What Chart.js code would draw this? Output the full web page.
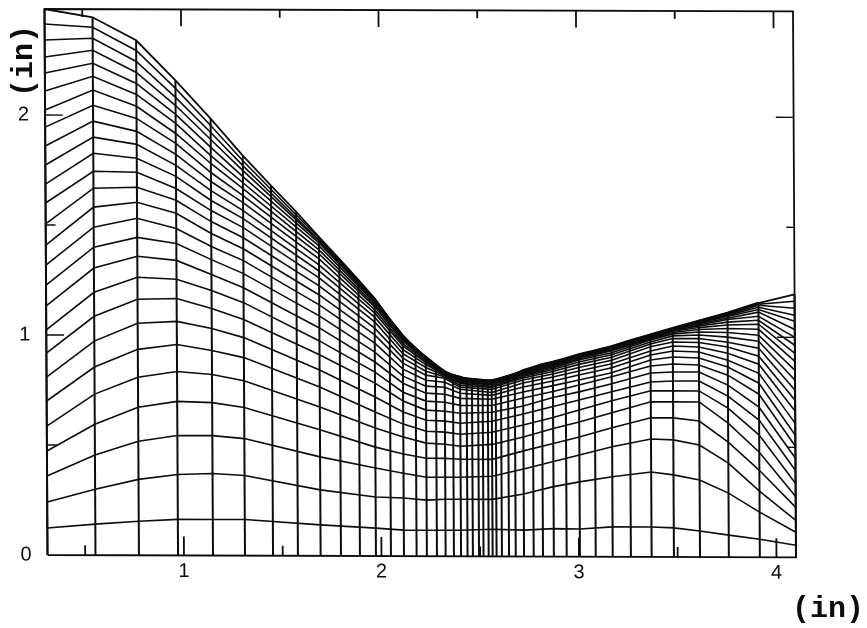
<!DOCTYPE html>
<html><head><meta charset="utf-8">
<style>html,body{margin:0;padding:0;background:#fff}canvas{display:block}</style>
<script src="https://cdn.jsdelivr.net/npm/chart.js@4"></script>
</head><body><canvas id="c" width="867" height="628"></canvas>
<script>
const xMin=0.309,xMax=4.099,yMin=0,yMax=2.482;
// every vertical mesh line: x station and the wall height there (inches)
const stations=[0.309,0.552,0.772,0.970,1.147,1.309,1.451,1.577,1.692,1.795,1.891,1.972,2.048,2.114,2.178,2.230,2.281,2.325,2.367,2.403,2.436,2.463,2.494,2.517,2.543,2.563,2.583,2.610,2.646,2.680,2.722,2.771,2.818,2.873,2.938,3.005,3.085,3.171,3.263,3.368,3.481,3.613,3.759,3.916,4.099];
const wall=[2.482,2.445,2.341,2.159,1.986,1.818,1.682,1.564,1.450,1.350,1.255,1.173,1.077,1.005,0.941,0.905,0.868,0.839,0.823,0.814,0.805,0.802,0.800,0.798,0.798,0.800,0.802,0.807,0.818,0.827,0.845,0.859,0.873,0.884,0.900,0.918,0.936,0.955,0.982,1.009,1.039,1.073,1.109,1.155,1.195];
// heights of the 25 inner mesh lines, read at key stations
const keyStations=[0.309,0.552,0.772,0.970,1.147,1.309,1.692,1.972,2.114,2.230,2.325,2.403,2.563,2.722,2.873,3.005,3.171,3.368,3.481,3.613,3.759,3.916,4.099];
const c0309=[.123,.241,.359,.473,.586,.700,.809,.918,1.023,1.132,1.227,1.318,1.409,1.505,1.600,1.686,1.773,1.859,1.945,2.023,2.109,2.191,2.264,2.341,2.414];
const c0552=[.141,.300,.455,.595,.732,.855,.973,1.086,1.195,1.305,1.400,1.491,1.582,1.668,1.745,1.827,1.900,1.973,2.045,2.114,2.177,2.236,2.295,2.350,2.400];
const c0772=[.155,.345,.518,.673,.809,.936,1.055,1.164,1.264,1.359,1.445,1.532,1.605,1.673,1.741,1.805,1.868,1.927,1.986,2.041,2.095,2.145,2.195,2.245,2.295];
const c0970=[.164,.368,.545,.700,.836,.959,1.064,1.168,1.255,1.341,1.418,1.486,1.555,1.614,1.668,1.723,1.773,1.823,1.873,1.918,1.964,2.005,2.045,2.082,2.123];
const c1147=[.164,.373,.545,.695,.823,.932,1.032,1.123,1.205,1.277,1.345,1.405,1.464,1.518,1.568,1.614,1.659,1.700,1.741,1.782,1.818,1.855,1.891,1.923,1.955];
const c1309=[.164,.364,.532,.673,.795,.900,.991,1.073,1.150,1.218,1.282,1.341,1.395,1.445,1.491,1.532,1.568,1.605,1.636,1.668,1.695,1.723,1.750,1.773,1.795];
const c1692=[.141,.300,.450,.573,.677,.768,.845,.914,.977,1.036,1.091,1.141,1.186,1.227,1.264,1.295,1.323,1.350,1.373,1.391,1.409,1.423,1.432,1.436,1.445];
const c1972=[.127,.268,.400,.495,.582,.655,.723,.786,.836,.882,.927,.968,1.005,1.036,1.064,1.086,1.105,1.120,1.134,1.143,1.152,1.159,1.164,1.166,1.168];
const c2114=[.118,.264,.377,.464,.541,.600,.655,.705,.745,.786,.818,.850,.877,.900,.920,.939,.955,.966,.977,.985,.991,.995,.999,1.001,1.003];
const c2230=[.118,.255,.359,.445,.514,.568,.618,.664,.705,.741,.773,.800,.823,.841,.858,.871,.880,.887,.892,.895,.898,.900,.901,.903,.904];
const c2325=[.118,.259,.359,.445,.509,.564,.614,.659,.700,.736,.768,.791,.809,.816,.820,.824,.826,.829,.830,.832,.833,.834,.835,.835,.836];
const c2403=[.118,.259,.359,.441,.500,.555,.605,.650,.686,.718,.741,.759,.768,.777,.786,.791,.795,.800,.805,.806,.808,.809,.810,.811,.813];
const c2563=[.123,.259,.364,.441,.509,.564,.614,.655,.686,.714,.732,.745,.759,.768,.773,.780,.784,.788,.791,.793,.795,.796,.797,.798,.799];
const c2722=[.120,.284,.398,.480,.543,.598,.648,.684,.720,.748,.770,.789,.802,.811,.818,.824,.829,.832,.835,.837,.839,.840,.841,.842,.843];
const c2873=[.127,.318,.432,.514,.582,.632,.682,.723,.750,.777,.798,.816,.830,.841,.850,.857,.863,.867,.871,.874,.876,.878,.879,.880,.881];
const c3005=[.126,.340,.462,.544,.612,.667,.712,.749,.780,.803,.826,.844,.860,.874,.885,.894,.900,.905,.908,.910,.912,.914,.915,.915,.916];
const c3171=[.136,.364,.500,.586,.655,.709,.750,.786,.818,.836,.859,.877,.893,.907,.918,.927,.936,.941,.945,.948,.950,.952,.953,.953,.954];
const c3368=[.136,.386,.536,.632,.705,.755,.795,.836,.868,.895,.918,.936,.955,.968,.977,.986,.991,.995,1.000,1.002,1.004,1.005,1.006,1.007,1.008];
const c3481=[.132,.373,.532,.632,.705,.755,.800,.841,.877,.909,.936,.959,.977,.993,1.005,1.014,1.020,1.026,1.030,1.033,1.035,1.036,1.037,1.038,1.038];
const c3613=[.118,.350,.509,.618,.705,.755,.800,.841,.873,.905,.932,.955,.975,.993,1.009,1.023,1.034,1.043,1.050,1.055,1.060,1.064,1.066,1.068,1.069];
const c3759=[.100,.291,.427,.523,.609,.677,.732,.782,.827,.864,.895,.927,.955,.977,1.000,1.021,1.039,1.055,1.068,1.080,1.086,1.094,1.099,1.103,1.106];
const c3916=[.082,.205,.300,.395,.477,.555,.623,.682,.741,.791,.836,.877,.914,.950,.982,1.009,1.036,1.059,1.077,1.095,1.114,1.126,1.136,1.145,1.150];
const c4099=[.055,.114,.168,.227,.277,.336,.395,.450,.505,.555,.609,.664,.714,.759,.805,.850,.891,.927,.964,1.000,1.036,1.073,1.100,1.132,1.164];
const columns=[c0309,c0552,c0772,c0970,c1147,c1309,c1692,c1972,c2114,c2230,c2325,c2403,c2563,c2722,c2873,c3005,c3171,c3368,c3481,c3613,c3759,c3916,c4099];
// tick labels and inward tick marks
const xLabels=[1,2,3,4], yLabels=[0,1,2];
const xMajor=[1,2,3,4], xMinor=[0.5,1.5,2.5,3.5];
const yMajor=[1,2], yMinor=[0.5,1.5];

const INK='#0c0c0c';
const seg=(data,w)=>({data,showLine:true,pointRadius:0,borderColor:INK,borderWidth:w,clip:false,fill:false,tension:0});
const datasets=[];
stations.forEach((x,i)=>datasets.push(seg([{x,y:0},{x,y:wall[i]}],2)));
columns[0].forEach((_,j)=>datasets.push(seg(keyStations.map((x,i)=>({x,y:columns[i][j]})),1.6)));
datasets.push(seg(stations.map((x,i)=>({x,y:wall[i]})),1.8));
// the crowded lines under the wall merge into a heavier band from the throat to the exit
datasets.push(seg(stations.slice(14,44).map((x,i)=>({x,y:wall[i+14]})),2.8));
datasets.push(seg([{x:xMin,y:yMin},{x:xMax,y:yMin},{x:xMax,y:yMax},{x:xMin,y:yMax},{x:xMin,y:yMin}],1.8));
xMajor.forEach(x=>{datasets.push(seg([{x,y:0},{x,y:.086}],1.8));datasets.push(seg([{x,y:yMax},{x,y:yMax-.077}],1.8));});
xMinor.forEach(x=>{datasets.push(seg([{x,y:0},{x,y:.045}],1.8));datasets.push(seg([{x,y:yMax},{x,y:yMax-.036}],1.8));});
yMajor.forEach(y=>{datasets.push(seg([{x:xMin,y},{x:xMin+.09,y}],1.4));datasets.push(seg([{x:xMax,y},{x:xMax-.09,y}],1.4));});
yMinor.forEach(y=>{datasets.push(seg([{x:xMin,y},{x:xMin+.05,y}],1.4));datasets.push(seg([{x:xMax,y},{x:xMax-.04,y}],1.4));});

// the scanned page is slightly out of square
const scanSkew={id:'scanSkew',
  beforeDraw(ch){const c=ch.ctx;c.save();c.transform(1,0.0031,0.0055,1,-3.05,-0.147);},
  afterDraw(ch){ch.ctx.restore();}};
const axisTitles={id:'axisTitles',afterDraw(ch){
  const c=ch.ctx;c.save();c.fillStyle=INK;c.font='bold 30px "Liberation Mono"';c.textAlign='center';c.textBaseline='alphabetic';
  c.fillText('(in)',828,617);
  c.translate(32,61);c.rotate(-Math.PI/2);c.fillText('(in)',0,0);c.restore();}};
const noPad=s=>{s.paddingTop=0;s.paddingBottom=0;s.paddingLeft=0;s.paddingRight=0;};

new Chart(document.getElementById('c'),{type:'scatter',data:{datasets},plugins:[scanSkew,axisTitles],
 options:{responsive:false,animation:false,events:[],
  layout:{padding:{left:0,top:9,right:71,bottom:0}},
  plugins:{legend:{display:false},tooltip:{enabled:false},title:{display:false}},
  scales:{
   x:{type:'linear',min:xMin,max:xMax,afterFit(s){s.height=73;noPad(s);},
      grid:{display:false,drawTicks:false},border:{display:false},
      ticks:{stepSize:1,includeBounds:false,padding:4,color:INK,maxRotation:0,autoSkip:false,font:{family:'"Liberation Sans"',size:20},callback:v=>xLabels.includes(v)?String(v):''}},
   y:{type:'linear',min:yMin,max:yMax,afterFit(s){s.width=47.5;noPad(s);},
      grid:{display:false,drawTicks:false},border:{display:false},
      ticks:{stepSize:1,includeBounds:false,padding:16,color:INK,autoSkip:false,font:{family:'"Liberation Sans"',size:20},callback:v=>yLabels.includes(v)?String(v):''}}
  }}});
</script></body></html>
